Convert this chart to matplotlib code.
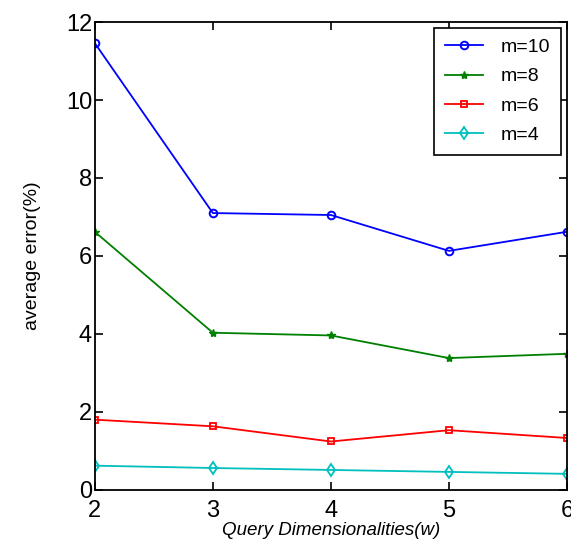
import numpy as np
import matplotlib.pyplot as plt

w = [2, 3, 4, 5, 6]
m10 = [11.46, 7.10, 7.05, 6.13, 6.62]
m8 = [6.62, 4.03, 3.96, 3.38, 3.49]
m6 = [1.80, 1.63, 1.24, 1.53, 1.33]
m4 = [0.62, 0.56, 0.51, 0.46, 0.41]

plt.rcParams['font.family'] = 'Liberation Sans'

fig = plt.figure(figsize=(5.71, 5.51), dpi=100)
ax = fig.add_axes([0.166, 0.111, 0.827, 0.849])

ax.plot(w, m10, color='blue', marker='o', ms=5.5, mfc='none', mew=1.4, lw=1.3, label='m=10')
ax.plot(w, m8, color='green', marker='*', ms=6, lw=1.3, label='m=8')
ax.plot(w, m6, color='red', marker='s', ms=5, mfc='none', mew=1.3, lw=1.3, label='m=6')
ax.plot(w, m4, color='c', marker='d', ms=6, mfc='none', mew=1.3, lw=1.3, label='m=4')

ax.set_xlim(2, 6)
ax.set_ylim(0, 12)
ax.set_xticks([2, 3, 4, 5, 6])
ax.set_yticks([0, 2, 4, 6, 8, 10, 12])
ax.tick_params(direction='in', top=True, right=True, length=6, width=1.2,
               labelsize=17)
ax.tick_params(axis='x', pad=7)
ax.tick_params(axis='y', pad=2)
for s in ax.spines.values():
    s.set_linewidth(1.3)

ax.set_xlabel('Query Dimensionalities(w)', fontsize=13.5, style='italic', labelpad=0)
ax.set_ylabel('average error(%)', fontsize=14, labelpad=18)

leg = ax.legend(loc='upper right', fancybox=False, edgecolor='black',
                framealpha=1, handlelength=2.0, handletextpad=0.9, borderaxespad=0.3,
                labelspacing=0.6, borderpad=0.55, prop={'size': 14})
leg.get_frame().set_linewidth(1.2)

fig.savefig('out.png', dpi=100)
